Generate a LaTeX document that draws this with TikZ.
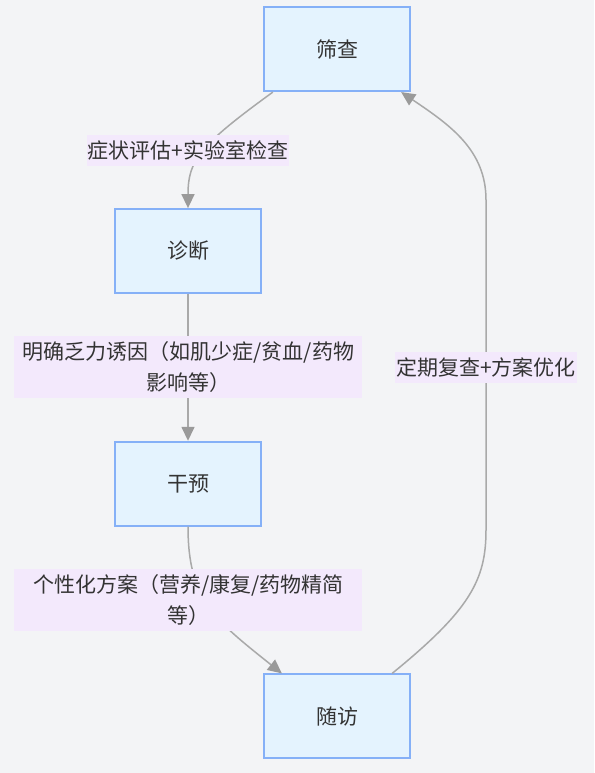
\documentclass[tikz,border=0pt]{standalone}
\usepackage{fontspec}
\setmainfont{Noto Sans CJK SC}
\usetikzlibrary{arrows.meta}
\definecolor{bgcol}{HTML}{F3F4F6}
\definecolor{boxfill}{HTML}{E4F3FE}
\definecolor{boxline}{HTML}{85B0F7}
\definecolor{labelfill}{HTML}{F3E9FC}
\definecolor{edgecol}{HTML}{A9A9A9}
\definecolor{tipcol}{HTML}{9A9A9A}
\definecolor{textcol}{HTML}{333333}

\begin{document}
\begin{tikzpicture}[x=1pt,y=1pt,
  every node/.style={font=\fontsize{21}{31}\selectfont,text=textcol},
  stepbox/.style={draw=boxline,fill=boxfill,line width=1.8pt,minimum width=146.5pt,minimum height=84pt,inner sep=0pt},
  edgelabel/.style={fill=labelfill,inner xsep=1pt,inner ysep=0pt,minimum height=31pt,align=center},
  flow/.style={draw=edgecol,line width=1.5pt,-{Triangle[length=14pt,width=13pt,color=tipcol]}}]
\fill [bgcol] (0,0) rectangle (594,-773);
\useasboundingbox (0,0) rectangle (594,-773);
\node [stepbox] (shaicha) at (337,-49.2) {筛查};
\node [stepbox] (zhenduan) at (188,-251) {诊断};
\node [stepbox] (ganyu) at (188,-483.7) {干预};
\node [stepbox] (suifang) at (337,-716.3) {随访};
\draw [flow] ([xshift=10pt]shaicha.south west) .. controls (200,-145) and (188,-160) .. (zhenduan.north);
\draw [flow] (zhenduan) -- (ganyu);
\draw [flow] (ganyu.south) .. controls (188,-600) and (215,-620) .. ([xshift=19pt]suifang.north west);
\draw [flow] ([xshift=-19pt]suifang.north east) .. controls (470,-610) and (486,-580) .. (486,-530)
  -- (486,-200) .. controls (486,-150) and (450,-125) .. ([xshift=-10pt]shaicha.south east);
\node [edgelabel] (checklbl) at (188,-150.4) {症状评估+实验室检查};
\node [edgelabel,minimum width=348pt,minimum height=62pt] (causelbl) at (188.4,-367.2) {明确乏力诱因（如肌少症/贫血/药物\\影响等）};
\node [edgelabel,minimum width=348pt,minimum height=62pt] (planlbl) at (188.4,-600.2) {个性化方案（营养/康复/药物精简\\等）};
\node [edgelabel] (reviewlbl) at (486,-367.2) {定期复查+方案优化};
\end{tikzpicture}
\end{document}
